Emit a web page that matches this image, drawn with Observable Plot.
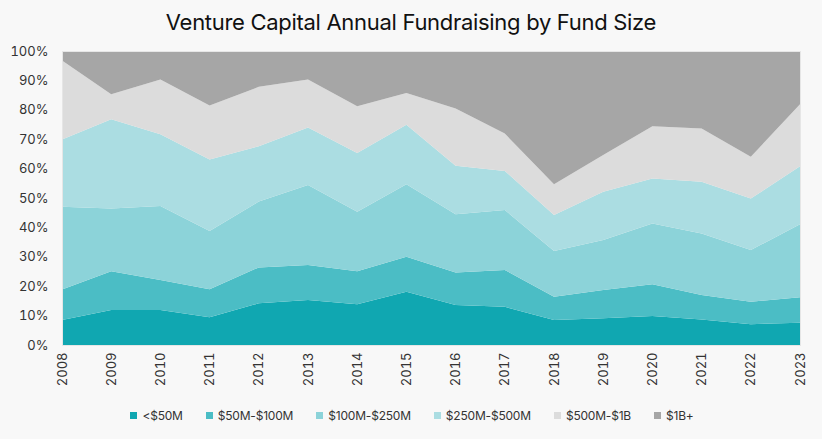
<!DOCTYPE html>
<html>
<head>
<meta charset="utf-8">
<script src="https://cdn.jsdelivr.net/npm/d3@7"></script>
<script src="https://cdn.jsdelivr.net/npm/@observablehq/plot@0.6"></script>
<style>
  html, body { margin: 0; padding: 0; background: #f8f8f8; }
  body { width: 822px; height: 439px; overflow: hidden; font-family: Inter, "Noto Sans", sans-serif; }
  #title { height: 44px; line-height: 44px; text-align: center; font-size: 22px; color: #111; letter-spacing: -0.3px; }
  #chart svg { display: block; }
  #legend { display: flex; justify-content: center; gap: 23px; margin-top: 19px; font-size: 12px; color: #333; padding-left: 2px; letter-spacing: -0.2px; }
  #legend .item { display: flex; align-items: center; gap: 5px; }
  #legend .sw { width: 7px; height: 7px; display: inline-block; }
</style>
</head>
<body>
<div id="title">Venture Capital Annual Fundraising by Fund Size</div>
<div id="chart"></div>
<div id="legend"></div>
<script>
const years = [2008,2009,2010,2011,2012,2013,2014,2015,2016,2017,2018,2019,2020,2021,2022,2023];
const categories = ["<$50M","$50M-$100M","$100M-$250M","$250M-$500M","$500M-$1B","$1B+"];
const colors = ["#10a7b1","#4bbdc5","#8cd3d9","#abdde2","#dcdcdc","#a6a6a6"];
const under50 = [8.5,11.9,11.9,9.4,14.2,15.3,13.9,18.1,13.6,13.0,8.5,9.1,9.9,8.7,7.1,7.6];
const m50to100 = [10.4,13.2,10.2,9.6,12.2,11.9,11.2,11.9,11.1,12.5,7.9,9.6,10.8,8.3,7.6,8.6];
const m100to250 = [28.1,21.3,25.2,19.8,22.4,27.2,20.2,24.7,19.8,20.4,15.6,17.0,20.6,20.9,17.6,24.9];
const m250to500 = [22.9,30.4,24.4,24.3,18.8,19.6,20.0,20.2,16.5,13.3,12.2,16.4,15.3,17.6,17.5,19.7];
const m500to1b = [26.9,8.5,18.6,18.4,20.2,16.3,15.9,10.8,19.4,12.7,10.5,12.5,17.8,18.1,14.2,21.1];
const b1plus = [3.2,14.7,9.7,18.5,12.2,9.7,18.8,14.3,19.6,28.1,45.3,35.4,25.6,26.4,36.0,18.1];
const yTicks = [0,10,20,30,40,50,60,70,80,90,100];

const series = [under50, m50to100, m100to250, m250to500, m500to1b, b1plus];
const data = [];
categories.forEach((c, i) => years.forEach((y, j) => data.push({year: y, cat: c, value: series[i][j]})));

const chart = Plot.plot({
  width: 822,
  height: 345,
  marginTop: 7,
  marginLeft: 62,
  marginRight: 22,
  marginBottom: 44,
  style: {background: "transparent", fontFamily: "Inter, 'Noto Sans', sans-serif", fontSize: "13px", color: "#333"},
  x: {domain: [2008, 2023], ticks: years, tickFormat: d => String(d), tickRotate: -90, tickSize: 0, tickPadding: 7, label: null},
  y: {domain: [0, 100], ticks: yTicks, tickFormat: d => d + "%", tickSize: 0, tickPadding: 14, label: null},
  color: {domain: categories, range: colors},
  marks: [
    Plot.areaY(data, {x: "year", y: "value", fill: "cat", order: categories}),
    Plot.frame({stroke: "#e6e6e6", strokeWidth: 1})
  ]
});
document.getElementById("chart").appendChild(chart);

const legend = document.getElementById("legend");
categories.forEach((c, i) => {
  const it = document.createElement("div");
  it.className = "item";
  const sw = document.createElement("span");
  sw.className = "sw";
  sw.style.background = colors[i];
  const t = document.createElement("span");
  t.textContent = c;
  it.appendChild(sw); it.appendChild(t);
  legend.appendChild(it);
});
</script>
</body>
</html>
